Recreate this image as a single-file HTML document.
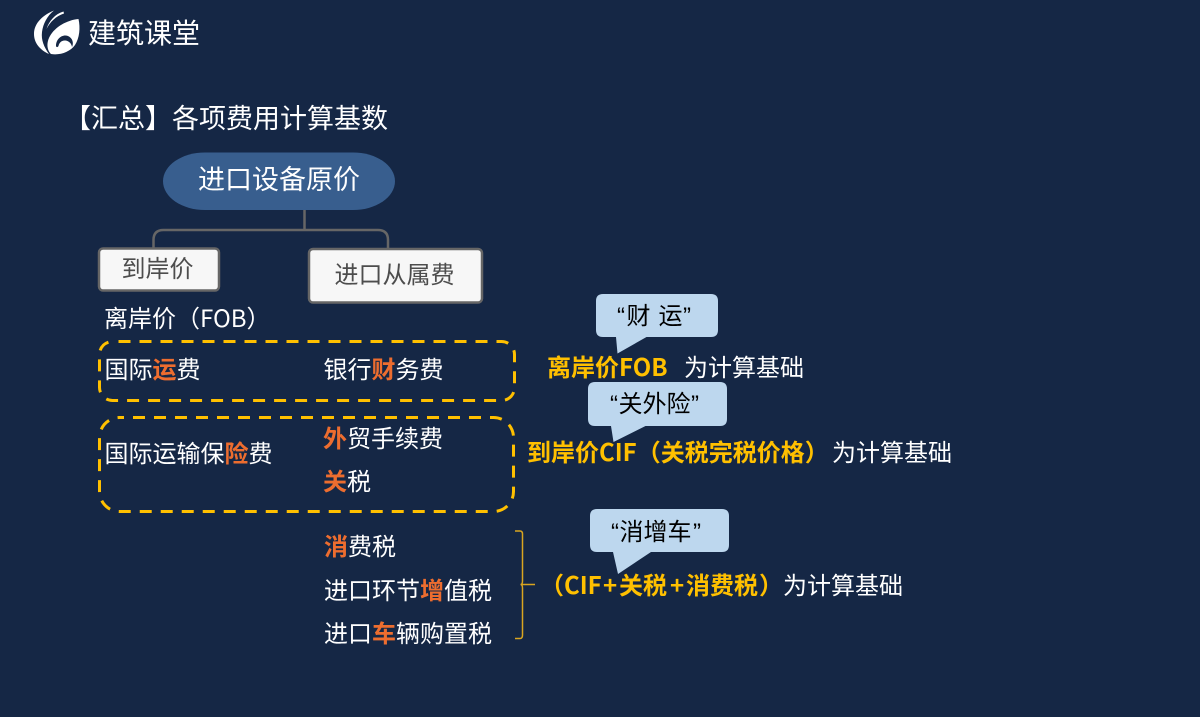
<!DOCTYPE html>
<html lang="zh"><head><meta charset="utf-8"><style>
html,body{margin:0;padding:0;background:#152745}
svg{display:block}
text{font-family:"Liberation Sans","Noto Sans CJK SC",sans-serif;font-size:24px;fill:#fff}
.c{font-family:"Noto Sans CJK SC","Liberation Sans",sans-serif}
.o{fill:#ed6d2f;font-weight:700}
.y{fill:#ffc000;font-weight:700}
.k{fill:#000}
.g{fill:#4d4d4d}
</style></head><body>
<svg width="1200" height="717" viewBox="0 0 1200 717" xmlns="http://www.w3.org/2000/svg">
<rect width="1200" height="717" fill="#152745"/>
<!-- logo -->
<g fill="#fff">
<path d="M54 10.500C43 15 34 23 34 34C34 43 40 50 49 54C44 47 41 40 42 32C43 24 47 16 54 10.500Z"/>
<path d="M63.500 11.500C55 14 49 21 46.500 29C50 22 56 16 64 13.500Z"/>
<path d="M78.500 19C67 20 55 27 50 36C46 43 47 50 51 54C60 55.500 70 52 75 45C79.500 38 80.500 28 78.500 19Z"/>
</g>
<path d="M56 46C56 39 62 34 68 36C72.500 38 74 43 72 47C71.500 43.500 69 41 65.500 40.500C61.500 40 59 43 58.500 46C57.500 47.500 56.500 47.500 56 46Z" fill="#152745"/>
<text class="c" x="88" y="43" style="font-size:28px">建筑课堂</text>
<text class="c" x="64" y="128" style="font-size:27px">【汇总】各项费用计算基数</text>
<!-- connectors -->
<path d="M304.500 210V230M153.500 249V240Q153.500 230 163.500 230H378Q388 230 388 240V249" fill="none" stroke="#666" stroke-width="2.500"/>
<!-- top node -->
<rect x="163" y="152.500" width="232" height="57.500" rx="42" ry="28.700" fill="#385e8e"/>
<text class="c" x="279" y="189" text-anchor="middle" style="font-size:27px">进口设备原价</text>
<!-- child nodes -->
<rect x="99" y="248.500" width="120" height="42" rx="4" fill="#f7f7f7" stroke="#666" stroke-width="2.500"/>
<text class="c g" x="157.500" y="277" text-anchor="middle">到岸价</text>
<rect x="309" y="249" width="173" height="53.500" rx="4" fill="#f7f7f7" stroke="#666" stroke-width="2.500"/>
<text class="c g" x="394.500" y="283" text-anchor="middle">进口从属费</text>
<text class="c" x="104" y="327">离岸价（FOB）</text>
<!-- dashed groups -->
<rect x="99.500" y="341.500" width="415" height="59" rx="13" fill="none" stroke="#ffc000" stroke-width="3" stroke-dasharray="12 9" stroke-dashoffset="15"/>
<rect x="99.500" y="417.500" width="414" height="94" rx="20" fill="none" stroke="#ffc000" stroke-width="3" stroke-dasharray="12 9" stroke-dashoffset="7.500"/>
<text class="c" x="104.500" y="378">国际<tspan class="o">运</tspan>费</text>
<text class="c" x="323.500" y="378">银行<tspan class="o">财</tspan>务费</text>
<text class="c" x="104.500" y="462">国际运输保<tspan class="o">险</tspan>费</text>
<text class="c" x="323" y="447"><tspan class="o">外</tspan>贸手续费</text>
<text class="c" x="323" y="490"><tspan class="o">关</tspan>税</text>
<text class="c" x="324" y="555"><tspan class="o">消</tspan>费税</text>
<text class="c" x="324" y="599">进口环节<tspan class="o">增</tspan>值税</text>
<text class="c" x="324" y="642">进口<tspan class="o">车</tspan>辆购置税</text>
<!-- brace -->
<path d="M515 531H520Q522.500 531 522.500 534V581Q522.500 584.500 520.500 584.500H535M520.500 584.500Q522.500 584.500 522.500 588V635Q522.500 638.500 520 638.500H515" fill="none" stroke="#d9a520" stroke-width="1.500"/>
<!-- callouts -->
<path d="M603 294H711Q718 294 718 301V330Q718 337 711 337H646.500L617.500 353.500L616 337H603Q596 337 596 330V301Q596 294 603 294Z" fill="#bdd7ee"/>
<text x="617" y="324" style="fill:#000">“<tspan class="c k" x="626.500">财</tspan><tspan class="c k" x="658.500">运</tspan><tspan x="683">”</tspan></text>
<path d="M595 382H720Q727 382 727 389V419Q727 426 720 426H645.500L613.500 442L611 426H595Q588 426 588 419V389Q588 382 595 382Z" fill="#bdd7ee"/>
<text x="610" y="412" style="fill:#000">“<tspan class="c k" x="618.500">关外险</tspan><tspan x="691">”</tspan></text>
<path d="M597 509H722Q729 509 729 516V545Q729 552 722 552H651L618 574L613 552H597Q590 552 590 545V516Q590 509 597 509Z" fill="#bdd7ee"/>
<text x="611" y="540" style="fill:#000">“<tspan class="c k" x="619.500">消增车</tspan><tspan x="693">”</tspan></text>
<!-- right labels -->
<text class="c" x="547" y="376"><tspan class="y">离岸价FOB</tspan></text>
<text class="c" x="684" y="376">为计算基础</text>
<text class="c" x="527" y="461"><tspan class="y">到岸价CIF（关税完税价格）</tspan></text>
<text class="c" x="832" y="461">为计算基础</text>
<text class="c y" y="594" style="fill:#ffc000;font-weight:700"><tspan x="540">（</tspan><tspan x="564">CIF</tspan><tspan x="603">+</tspan><tspan x="619">关税</tspan><tspan x="670">+</tspan><tspan x="686">消费税</tspan><tspan x="759">）</tspan></text>
<text class="c" x="783" y="594">为计算基础</text>
</svg>
</body></html>
